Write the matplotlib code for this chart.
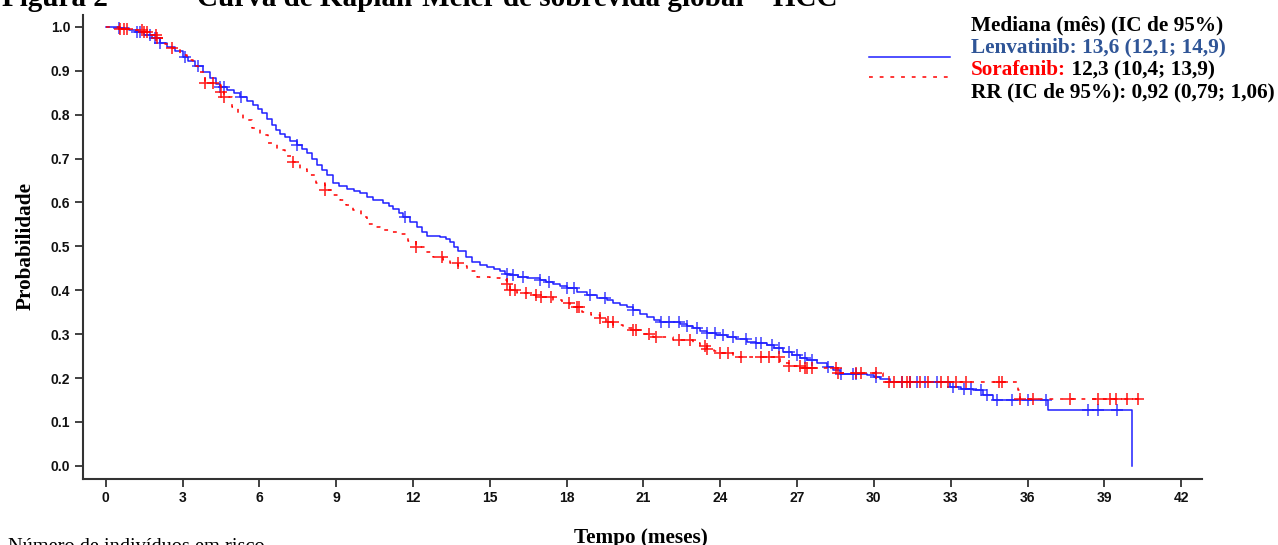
import matplotlib.pyplot as plt
from matplotlib.lines import Line2D
import numpy as np

# Kaplan-Meier curves (months, survival probability)
lenv_t = [0, 0.5, 0.9, 1.2, 1.5, 1.8, 2.1, 2.4, 2.7, 3.0, 3.2, 3.5, 3.8, 4.07, 4.3, 4.46, 4.72,
          5.0, 5.24, 5.5, 5.76, 5.95, 6.09, 6.3, 6.48, 6.65, 6.81, 7.0, 7.2, 7.46, 7.65, 7.85,
          8.05, 8.24, 8.45, 8.63, 8.89, 9.1, 9.41, 9.7, 9.93, 10.2, 10.45, 10.84, 11.05, 11.23,
          11.45, 11.62, 11.9, 12.14, 12.35, 12.53, 13.05, 13.3, 13.44, 13.6, 13.77, 14.05,
          14.29, 14.6, 14.88, 15.15, 15.4, 15.6, 15.79, 16.1, 16.44, 16.96, 17.2, 17.48, 17.75,
          18.0, 18.4, 18.78, 19.2, 19.56, 19.8, 20.08, 20.35, 20.6, 20.85, 21.12, 21.4, 21.64,
          22.42, 22.7, 22.94, 23.2, 23.47, 23.85, 24.25, 24.6, 25.03, 25.4, 25.81, 26.1, 26.46,
          26.8, 27.11, 27.4, 27.76, 28.15, 28.4, 28.67, 29.71, 30.0, 30.23, 30.62, 32.97, 33.4,
          33.88, 34.27, 34.66, 36.81, 40.06]
lenv_s = [1.0, 0.998, 0.993, 0.988, 0.982, 0.974, 0.964, 0.955, 0.946, 0.932, 0.922, 0.910,
          0.898, 0.884, 0.870, 0.863, 0.857, 0.849, 0.841, 0.832, 0.822, 0.812, 0.803, 0.789,
          0.777, 0.766, 0.757, 0.749, 0.740, 0.731, 0.722, 0.712, 0.699, 0.686, 0.673, 0.662,
          0.645, 0.638, 0.630, 0.626, 0.622, 0.612, 0.605, 0.599, 0.592, 0.586, 0.577, 0.567,
          0.555, 0.544, 0.533, 0.524, 0.522, 0.516, 0.511, 0.499, 0.490, 0.475, 0.464, 0.457,
          0.453, 0.448, 0.444, 0.438, 0.434, 0.430, 0.427, 0.423, 0.419, 0.415, 0.410, 0.404,
          0.396, 0.389, 0.383, 0.377, 0.372, 0.366, 0.361, 0.355, 0.347, 0.339, 0.333, 0.328,
          0.323, 0.318, 0.313, 0.307, 0.302, 0.298, 0.294, 0.288, 0.282, 0.279, 0.275, 0.268,
          0.260, 0.252, 0.245, 0.240, 0.235, 0.226, 0.218, 0.210, 0.207, 0.202, 0.197, 0.191,
          0.180, 0.176, 0.172, 0.161, 0.150, 0.127, 0.0]

sora_t = [0, 0.56, 1.0, 1.41, 1.7, 1.99, 2.3, 2.58, 2.9, 3.16, 3.4, 3.62, 3.88, 4.46, 4.5, 4.6,
          4.92, 5.15, 5.37, 5.7, 6.02, 6.35, 6.68, 7.0, 7.33, 7.6, 7.85, 8.2, 8.56, 8.85, 9.15,
          9.4, 9.67, 9.95, 10.19, 10.45, 10.71, 11.1, 11.49, 11.8, 12.1, 12.45, 12.79, 13.18,
          13.45, 13.77, 14.1, 14.49, 15.0, 15.4, 15.66, 15.79, 16.05, 16.5, 16.96, 17.48, 17.8,
          18.14, 18.59, 18.95, 19.3, 19.55, 19.82, 20.2, 20.6, 21.0, 21.38, 22.16, 22.94, 23.2,
          23.47, 23.75, 23.99, 24.51, 26.33, 26.7, 27.11, 28.6, 30.36, 35.64, 35.7, 40.5]
sora_s = [1.0, 0.996, 0.993, 0.989, 0.982, 0.974, 0.962, 0.951, 0.937, 0.924, 0.910, 0.897,
          0.871, 0.867, 0.852, 0.841, 0.818, 0.802, 0.787, 0.770, 0.753, 0.736, 0.719, 0.705,
          0.692, 0.677, 0.662, 0.645, 0.628, 0.617, 0.605, 0.594, 0.582, 0.566, 0.552, 0.544,
          0.537, 0.532, 0.527, 0.513, 0.499, 0.487, 0.476, 0.469, 0.462, 0.455, 0.443, 0.431,
          0.427, 0.423, 0.415, 0.400, 0.393, 0.389, 0.385, 0.377, 0.370, 0.362, 0.351, 0.343,
          0.336, 0.328, 0.320, 0.315, 0.309, 0.301, 0.294, 0.286, 0.279, 0.273, 0.267, 0.261,
          0.256, 0.248, 0.235, 0.228, 0.222, 0.212, 0.191, 0.172, 0.153, 0.153]

# censored observations (months)
lenv_cens = [0.52, 1.21, 1.33, 1.73, 1.93, 2.1, 3.1, 3.6, 4.46, 4.6, 5.3, 7.46, 11.7, 15.66,
             15.92, 16.3, 16.96, 17.3, 18.0, 18.3, 18.9, 19.5, 20.6, 21.7, 22.0, 22.4, 22.7,
             23.1, 23.5, 23.8, 24.1, 24.5, 25.0, 25.4, 25.6, 26.0, 26.3, 26.7, 27.0, 27.3,
             27.6, 28.2, 28.7, 29.2, 29.3, 30.1, 31.1, 31.4, 31.7, 32.0, 32.45, 33.1, 33.5,
             33.8, 34.2, 34.4, 34.8, 35.4, 36.0, 36.7, 38.37, 38.76, 39.5]
sora_cens = [0.56, 0.7, 0.84, 1.4, 1.5, 1.6, 1.95, 2.0, 2.6, 3.88, 4.2, 4.5, 4.62, 7.33, 8.56,
             12.1, 13.15, 13.75, 15.66, 15.8, 16.0, 16.4, 16.8, 17.0, 17.4, 18.1, 18.4, 18.5,
             19.3, 19.6, 19.8, 20.6, 20.7, 21.2, 21.5, 22.4, 22.8, 23.4, 23.5, 24.0, 24.3, 24.8,
             25.6, 25.9, 26.3, 26.7, 27.1, 27.3, 27.4, 27.6, 28.5, 28.6, 29.3, 29.5, 30.1, 30.6,
             30.8, 31.1, 31.3, 31.4, 31.8, 32.1, 32.6, 32.9, 33.2, 33.6, 34.9, 35.0, 35.7, 36.2,
             37.65, 38.76, 39.2, 39.45, 39.9, 40.3]

x_ticks = list(range(0, 43, 3))
y_ticks = [0.0, 0.1, 0.2, 0.3, 0.4, 0.5, 0.6, 0.7, 0.8, 0.9, 1.0]

W, H = 1278, 545
BLUE = '#1f1fff'
RED = '#ff0000'
SERIF = 'Liberation Serif'


def fx(x):
    return x / W


def fy(y):
    return 1 - y / H


def step_value(times, surv, t):
    # value of the step function at time t
    i = np.searchsorted(times, t, side='right') - 1
    return np.asarray(surv)[i]


fig = plt.figure(figsize=(W / 100, H / 100), dpi=100)
ax = fig.add_axes([fx(82.7), fy(479), fx(1201.7) - fx(82.7), fy(15) - fy(479)])

ax.plot(lenv_t, lenv_s, drawstyle='steps-post', color=BLUE, lw=1.1, zorder=3)
ax.plot(lenv_cens, step_value(lenv_t, lenv_s, lenv_cens), ls='none', marker='+',
        ms=8, mew=1.2, color=BLUE, alpha=0.8, zorder=3)
ax.plot(sora_t, sora_s, drawstyle='steps-post', color=RED, lw=1.1,
        ls=(0, (2.5, 4.5)), zorder=4)
ax.plot(sora_cens, step_value(sora_t, sora_s, sora_cens), ls='none', marker='+',
        ms=8, mew=1.2, color=RED, alpha=0.85, zorder=4)

ax.set_xlim(-0.9, 42.8)
ax.set_ylim(-0.030, 1.027)
ax.set_xticks(x_ticks)
ax.set_yticks(y_ticks)
ax.set_yticklabels(['%.1f' % v for v in y_ticks])
for s in ['top', 'right']:
    ax.spines[s].set_visible(False)
for s in ['left', 'bottom']:
    ax.spines[s].set_linewidth(1.5)
    ax.spines[s].set_color('#333333')
ax.tick_params(length=6, width=1.3, color='#333333', pad=3)
for lab in ax.get_xticklabels() + ax.get_yticklabels():
    lab.set_fontfamily('Liberation Sans')
    lab.set_fontweight('bold')
    lab.set_fontsize(10)
    lab.set_color('#111111')

# axis titles
fig.text(fx(641), fy(542.5), 'Tempo (meses)', family=SERIF, weight='bold', fontsize=15.3,
         ha='center', va='baseline')
fig.text(fx(26), fy(246), 'Probabilidade', family=SERIF, weight='bold', fontsize=15.3,
         rotation=90, ha='center', va='center')

# figure caption, cut at the top edge
fig.text(fx(2), fy(5.5), 'Figura 2', family=SERIF, weight='bold', fontsize=21,
         ha='left', va='baseline')
fig.text(fx(197), fy(5.5), 'Curva de Kaplan-Meier de sobrevida global – HCC', family=SERIF,
         weight='bold', fontsize=21, ha='left', va='baseline')
fig.text(fx(8), fy(552), 'Número de indivíduos em risco', family=SERIF, fontsize=14.7,
         ha='left', va='baseline')

# legend block
fig.add_artist(Line2D([fx(869), fx(950)], [fy(56.7), fy(56.7)], color=BLUE, lw=1.1))
fig.add_artist(Line2D([fx(869), fx(950)], [fy(76.7), fy(76.7)], color=RED, lw=1.1,
                      ls=(0, (2.5, 4.5))))
lx = fx(970.7)
fig.text(lx, fy(30), 'Mediana (mês) (IC de 95%)', family=SERIF, weight='bold',
         fontsize=15.3, va='baseline')
fig.text(lx, fy(52.5), 'Lenvatinib: 13,6 (12,1; 14,9)', family=SERIF, weight='bold',
         fontsize=15.3, va='baseline', color='#2f5597')
t1 = fig.text(lx, fy(75), 'Sorafenib:', family=SERIF, weight='bold', fontsize=15.3,
              va='baseline', color=RED)
ax.annotate(' 12,3 (10,4; 13,9)', xy=(1, 0), xycoords=t1, family=SERIF, weight='bold',
            fontsize=15.3, va='bottom', ha='left', color='black')
fig.text(lx, fy(97.5), 'RR (IC de 95%): 0,92 (0,79; 1,06)', family=SERIF, weight='bold',
         fontsize=15.3, va='baseline')

fig.savefig('out.png', dpi=100)
